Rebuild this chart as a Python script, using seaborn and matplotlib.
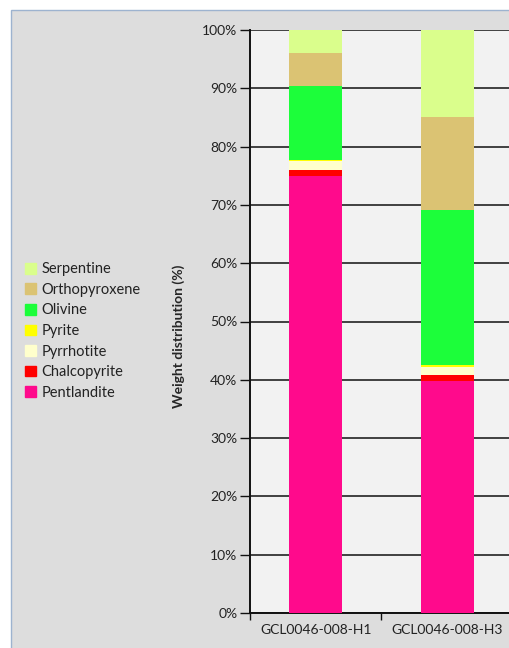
import numpy as np
import pandas as pd
import matplotlib
matplotlib.use('Agg')
import matplotlib.pyplot as plt
import matplotlib.patches as mpatches
import seaborn as sns

samples = ['GCL0046-008-H1', 'GCL0046-008-H3']
minerals = ['Pentlandite', 'Chalcopyrite', 'Pyrrhotite', 'Pyrite', 'Olivine', 'Orthopyroxene', 'Serpentine']
pentlandite = [75.0, 39.8]
chalcopyrite = [1.0, 1.0]
pyrrhotite = [1.5, 1.4]
pyrite = [0.2, 0.4]
olivine = [12.7, 26.5]
orthopyroxene = [5.7, 15.9]
serpentine = [3.9, 15.0]
colours = ['#FF0A8C', '#FF0000', '#FFFFCC', '#FFFF00', '#1CFE3A', '#DBC373', '#DAFE8C']

sns.set_style('white')
plt.rcParams['font.family'] = ['Lato', 'DejaVu Sans']

df = pd.DataFrame({'sample': samples, 'Pentlandite': pentlandite, 'Chalcopyrite': chalcopyrite,
                   'Pyrrhotite': pyrrhotite, 'Pyrite': pyrite, 'Olivine': olivine,
                   'Orthopyroxene': orthopyroxene, 'Serpentine': serpentine})
# cumulative totals so the layered bars look stacked
cum = df[minerals].cumsum(axis=1)
cum['sample'] = df['sample']

fig = plt.figure(figsize=(5.1, 6.48), dpi=100)
fig.patches.append(mpatches.Rectangle((11 / 510, -0.01), 1, 1 - 10 / 648 + 0.01, transform=fig.transFigure,
                                      facecolor='#DDDDDD', edgecolor='#9DB3CF', lw=1.0, zorder=-5))
ax = fig.add_axes([250 / 510, 1 - 613 / 648, 263 / 510, 583 / 648])
ax.set_facecolor('#F2F2F2')

for m, c in reversed(list(zip(minerals, colours))):
    sns.barplot(data=cum, x='sample', y=m, color=c, width=0.4, ax=ax, saturation=1,
                linewidth=0, zorder=3)

ax.set_ylim(0, 100)
ax.set_xlim(-0.5, 1.5)
ax.set_yticks(np.arange(0, 101, 10))
ax.set_yticklabels([f'{v}%' for v in range(0, 101, 10)], fontsize=10, color='#222222')
ax.yaxis.grid(True, color='#111111', lw=1.1, zorder=1)
ax.set_axisbelow(True)
ax.tick_params(axis='y', length=7, width=1, color='#111111', pad=2, left=True)
ax.set_xticks([0, 1])
ax.set_xticklabels(samples, fontsize=10, color='#222222')
ax.tick_params(axis='x', length=0, pad=8)
ax.set_xticks([-0.5, 0.5, 1.5], minor=True)
ax.tick_params(axis='x', which='minor', length=5, width=1, color='#111111', bottom=True)
ax.set_xlabel('')
ax.set_ylabel('Weight distribution (%)', fontsize=10, fontweight='bold')
ax.yaxis.set_label_coords(-0.248, 0.475)
for s in ['top', 'right']:
    ax.spines[s].set_visible(False)
for s in ['left', 'bottom']:
    ax.spines[s].set_color('#111111')
    ax.spines[s].set_linewidth(1.4)

handles = [mpatches.Patch(color=c, label=m) for m, c in zip(minerals, colours)][::-1]
fig.legend(handles=handles, loc='center left', bbox_to_anchor=(12 / 510, 1 - 331 / 648),
           frameon=False, fontsize=10.5, handlelength=0.75, handleheight=0.75,
           handletextpad=0.35, labelspacing=0.45, labelcolor='#222222')

fig.savefig('out.png', dpi=100)
